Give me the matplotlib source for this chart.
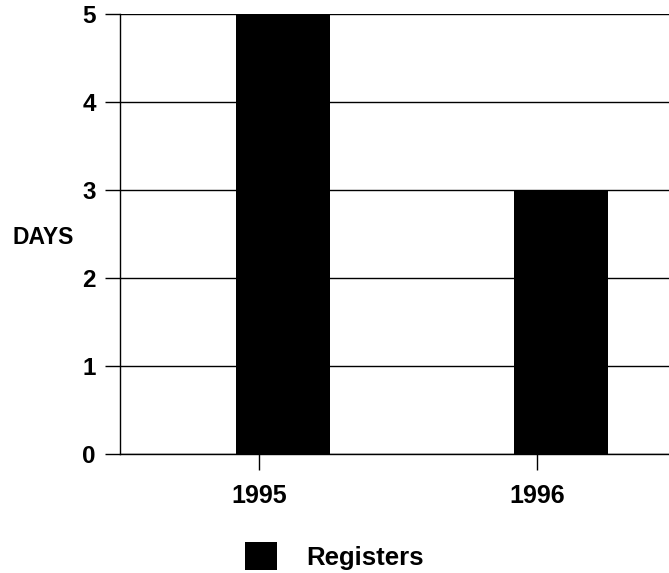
import matplotlib
matplotlib.use("Agg")
import matplotlib.pyplot as plt
import numpy as np

plt.rcParams["font.family"] = ["Liberation Sans", "DejaVu Sans"]
plt.rcParams["font.weight"] = "bold"

years = ["1995", "1996"]
registers_days = [5, 3]
y_ticks = [0, 1, 2, 3, 4, 5]

BAR_WIDTH = 0.338
BAR_SHIFT = -0.082

fig = plt.figure(figsize=(6.69, 5.73), dpi=100, facecolor="white")
ax = fig.add_axes([0.1794, 0.2077, 0.8311, 0.7679])

pos = np.arange(len(years))
ax.bar(pos + BAR_SHIFT, registers_days, width=BAR_WIDTH, align="edge",
       color="black", edgecolor="black", linewidth=0, label="Registers",
       zorder=3)

ax.set_xlim(-0.5, len(years) - 0.5)
ax.set_ylim(0, 5)
ax.set_xticks(pos)
ax.set_xticklabels(years)
ax.set_yticks(y_ticks)

ax.grid(axis="y", color="black", linewidth=1.0, zorder=1)
ax.set_axisbelow(True)
for side in ("top", "right"):
    ax.spines[side].set_visible(False)
for side in ("left", "bottom"):
    ax.spines[side].set_color("black")
    ax.spines[side].set_linewidth(1.0)

ax.tick_params(axis="y", direction="out", length=10.8, width=1.0,
               pad=6.5, labelsize=17.5, colors="black")
ax.tick_params(axis="x", direction="out", length=11.5, width=1.0,
               pad=10, labelsize=18, colors="black")

ax.set_ylabel("DAYS", rotation=0, fontsize=16.5, fontweight="bold",
              ha="center", va="center")
ax.yaxis.set_label_coords(-0.1385, 0.491)

fig.legend(loc="center left", bbox_to_anchor=(245 / 669, 1 - 556 / 573),
           frameon=False, fontsize=18.5, handlelength=1.25, handleheight=1.3,
           handletextpad=1.15, borderpad=0, borderaxespad=0)

fig.savefig("out.png", dpi=100, facecolor="white")
